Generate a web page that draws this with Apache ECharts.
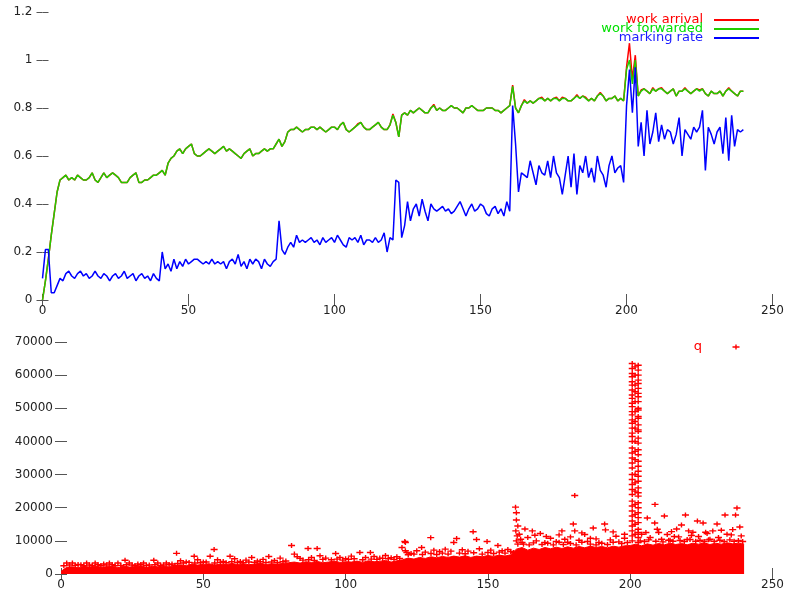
<!DOCTYPE html>
<html>
<head>
<meta charset="utf-8">
<script src="https://cdn.jsdelivr.net/npm/echarts@6/dist/echarts.min.js"></script>
<style>
html,body{margin:0;padding:0;background:#fff;}
#chart{width:787px;height:591px;}
</style>
</head>
<body>
<div id="chart"></div>
<script>
// ---- top plot: samples every 1 s from t = 0 to 240 ----
const topStart = 0, topStep = 1;
const workForwarded = [
0,0.08,0.17,0.27,0.36,0.45,0.50,0.51,0.52,0.50,
0.51,0.50,0.52,0.51,0.50,0.50,0.51,0.53,0.50,0.49,
0.51,0.53,0.51,0.52,0.53,0.52,0.51,0.49,0.49,0.49,
0.51,0.52,0.53,0.49,0.49,0.50,0.50,0.51,0.52,0.52,
0.53,0.54,0.52,0.57,0.59,0.60,0.62,0.63,0.61,0.63,
0.64,0.65,0.61,0.60,0.60,0.61,0.62,0.63,0.62,0.61,
0.62,0.63,0.64,0.62,0.63,0.62,0.61,0.60,0.59,0.61,
0.62,0.63,0.60,0.61,0.61,0.62,0.63,0.62,0.63,0.63,
0.65,0.67,0.64,0.66,0.70,0.71,0.71,0.72,0.71,0.70,
0.71,0.71,0.72,0.72,0.71,0.72,0.71,0.70,0.71,0.72,
0.72,0.71,0.73,0.74,0.71,0.70,0.71,0.72,0.73,0.74,
0.72,0.71,0.71,0.72,0.73,0.74,0.72,0.71,0.71,0.73,
0.77,0.74,0.68,0.77,0.78,0.77,0.79,0.78,0.79,0.80,
0.79,0.78,0.78,0.80,0.81,0.79,0.80,0.79,0.79,0.80,
0.81,0.80,0.80,0.79,0.78,0.80,0.80,0.81,0.80,0.79,
0.79,0.79,0.80,0.80,0.80,0.79,0.79,0.78,0.79,0.80,
0.81,0.89,0.80,0.78,0.81,0.83,0.82,0.83,0.82,0.83,
0.84,0.84,0.83,0.84,0.83,0.84,0.84,0.83,0.84,0.84,
0.83,0.83,0.84,0.85,0.84,0.85,0.84,0.83,0.84,0.83,
0.85,0.86,0.85,0.83,0.84,0.84,0.85,0.83,0.84,0.83,
0.96,1.00,0.90,1.00,0.85,0.87,0.88,0.87,0.86,0.88,
0.87,0.88,0.88,0.87,0.86,0.87,0.88,0.85,0.87,0.87,
0.88,0.87,0.86,0.87,0.88,0.87,0.88,0.86,0.85,0.87,
0.86,0.86,0.87,0.85,0.87,0.88,0.87,0.86,0.85,0.87,
0.87];
const workArrival = [
0,0.08,0.17,0.27,0.36,0.45,0.50,0.51,0.52,0.50,
0.51,0.50,0.52,0.51,0.50,0.50,0.51,0.53,0.50,0.49,
0.51,0.53,0.51,0.52,0.53,0.52,0.51,0.49,0.49,0.49,
0.51,0.52,0.53,0.49,0.49,0.50,0.50,0.51,0.52,0.52,
0.53,0.54,0.52,0.57,0.59,0.60,0.62,0.63,0.61,0.63,
0.64,0.65,0.61,0.60,0.60,0.61,0.62,0.63,0.62,0.61,
0.62,0.63,0.64,0.62,0.63,0.62,0.61,0.60,0.59,0.61,
0.62,0.63,0.60,0.61,0.61,0.62,0.63,0.62,0.63,0.63,
0.65,0.67,0.64,0.66,0.70,0.71,0.71,0.72,0.71,0.70,
0.71,0.71,0.72,0.72,0.71,0.72,0.71,0.70,0.71,0.72,
0.72,0.71,0.73,0.74,0.71,0.70,0.71,0.72,0.735,0.74,
0.72,0.71,0.71,0.72,0.73,0.74,0.72,0.71,0.71,0.73,
0.775,0.74,0.68,0.77,0.78,0.77,0.79,0.78,0.79,0.80,
0.79,0.78,0.78,0.80,0.815,0.79,0.80,0.79,0.79,0.80,
0.81,0.80,0.80,0.79,0.78,0.80,0.80,0.81,0.80,0.79,
0.79,0.79,0.80,0.80,0.80,0.79,0.79,0.78,0.79,0.80,
0.81,0.895,0.80,0.78,0.81,0.835,0.82,0.83,0.82,0.83,
0.84,0.845,0.83,0.84,0.83,0.84,0.845,0.83,0.845,0.84,
0.83,0.83,0.84,0.855,0.84,0.85,0.845,0.83,0.84,0.83,
0.85,0.865,0.85,0.83,0.84,0.84,0.85,0.83,0.84,0.83,
0.97,1.07,0.92,1.02,0.85,0.875,0.88,0.87,0.86,0.885,
0.87,0.88,0.885,0.87,0.86,0.87,0.88,0.85,0.87,0.87,
0.885,0.87,0.86,0.87,0.88,0.875,0.88,0.86,0.85,0.87,
0.86,0.86,0.87,0.85,0.87,0.885,0.87,0.86,0.85,0.87,
0.87];
const markingRate = [
0.09,0.21,0.21,0.03,0.03,0.06,0.09,0.08,0.11,0.12,
0.10,0.09,0.11,0.12,0.10,0.11,0.09,0.10,0.12,0.10,
0.09,0.11,0.10,0.08,0.10,0.11,0.09,0.10,0.12,0.09,
0.10,0.11,0.08,0.10,0.11,0.09,0.10,0.08,0.11,0.09,
0.08,0.20,0.13,0.15,0.12,0.17,0.13,0.16,0.14,0.17,
0.15,0.16,0.17,0.17,0.16,0.15,0.16,0.15,0.17,0.15,
0.16,0.15,0.16,0.13,0.16,0.17,0.15,0.19,0.14,0.16,
0.13,0.17,0.15,0.17,0.16,0.13,0.17,0.15,0.14,0.16,
0.17,0.33,0.21,0.19,0.22,0.24,0.22,0.27,0.24,0.25,
0.24,0.25,0.26,0.24,0.25,0.23,0.26,0.24,0.25,0.26,
0.24,0.27,0.25,0.23,0.22,0.26,0.25,0.26,0.24,0.27,
0.23,0.25,0.25,0.24,0.26,0.24,0.25,0.28,0.20,0.26,
0.25,0.50,0.49,0.26,0.31,0.41,0.33,0.38,0.40,0.35,
0.42,0.37,0.33,0.40,0.38,0.37,0.38,0.39,0.37,0.38,
0.36,0.37,0.39,0.41,0.38,0.35,0.38,0.40,0.37,0.38,
0.40,0.39,0.36,0.35,0.38,0.39,0.36,0.38,0.35,0.41,
0.37,0.81,0.65,0.45,0.53,0.52,0.51,0.58,0.53,0.48,
0.56,0.53,0.52,0.58,0.51,0.60,0.53,0.51,0.44,0.52,
0.60,0.47,0.61,0.44,0.56,0.53,0.60,0.51,0.55,0.49,
0.60,0.54,0.52,0.47,0.56,0.60,0.53,0.55,0.56,0.49,
0.81,0.96,0.78,0.97,0.64,0.74,0.60,0.79,0.65,0.70,
0.78,0.66,0.73,0.67,0.71,0.70,0.65,0.69,0.76,0.60,
0.71,0.69,0.67,0.72,0.70,0.72,0.79,0.54,0.72,0.69,
0.65,0.70,0.72,0.61,0.76,0.58,0.77,0.64,0.71,0.70,
0.71];

// ---- bottom plot: queue length q ----
// dense band of samples: upper edge of the solid mass, every 2 s from 0 to 240
const qBandStart = 0, qBandStep = 2;
const qBandTop = [
800,2000,2200,1900,2300,2100,2400,2000,2200,2300,1900,2400,2100,2200,2500,2000,2300,2200,2400,2100,2600,
2800,2500,3000,2700,2900,3100,2700,3000,2800,3200,2900,3100,2800,3000,3300,2900,3100,3000,3200,3400,
3600,3300,3700,3500,3800,3400,3600,3900,3500,3700,3600,3900,3500,4000,3700,3800,4100,3600,4000,4300,
4800,4500,5000,4700,5200,4900,5300,5000,5400,5100,5500,5000,5400,5200,5600,5300,5700,5400,5800,7500,
8000,7200,7800,7400,8000,7600,8100,7700,8200,7800,8300,7900,8400,8000,8300,7900,8400,8100,8500,8600,
9000,8500,9100,8700,9200,8800,9300,8900,9200,8800,9300,9000,9400,8900,9300,9000,9400,9100,9300,9000];
// individual samples above the band [time, q]
const qScatter = [
[1,2500],[3,2700],[5,2600],[7,2800],[8,2500],[10,2700],[11,2600],[13,2800],[14,2500],[16,2700],[18,2800],[19,2500],[21,2600],[23,2800],[25,2700],[26,2500],[28,2800],[30,2600],[31,2700],[33,2800],[35,2600],[36,2700],[38,2800],[40,2600],
[2,3300],[4,3300],[6,2900],[9,3300],[12,3300],[15,3000],[17,3300],[20,3300],[22.5,4150],[24,3300],[27,3000],[29,3300],[32.6,4150],[34,3300],[37,3300],[39,3000],
[41,3200],[43,3300],[45,3500],[47,3300],[49,3400],[51,3600],[54,3300],[56,3500],[58,3400],[60,3700],[62,3500],[64,3400],[66,3600],[68,3500],[70,3700],[72,3500],[74,3600],[76,3500],[78,3700],
[40.6,6230],[42,4000],[44,3600],[46.8,5340],[48,4300],[50,3600],[52.4,5340],[53.8,7400],[55,4300],[57,3800],[59.4,5340],[61,4600],[63,3800],[65,4200],[67,5000],[69,3900],[71,4400],[73,5300],[75,4100],[77,4800],[79,3900],
[85,4200],[87,4300],[89,4100],[92,4400],[95,4300],[97,4500],[99,4200],[101,4400],[103,4600],[106,4300],[109,4500],[111,4400],[113,4700],[115,4600],[117,4400],[119,4700],
[81,8600],[82,6000],[83,5200],[84,4700],[86.8,7700],[88,5000],[90,7700],[91,5500],[93,4800],[96.5,6200],[98,5000],[100,4600],[102,5400],[105,6500],[107,5000],[108.7,6500],[110,5300],[112,4800],[114,5600],[116,4900],[118,5200],[119.8,8000],[120.8,9800],[121,7000],[121.5,6500],
[122,5800],[124,6000],[127,5900],[130,6200],[132,5900],[134,6300],[136,6000],[140,6300],[142,6100],[145,6400],[148,6000],[150,6500],[152,6200],[154,6600],[156,6300],[159,6500],
[121,9500],[123,6200],[125,7000],[126.7,8000],[128,6600],[129.9,10970],[131,7200],[133,6800],[135,7500],[137,6900],[138,9500],[139,10700],[141,7300],[143,6900],[144.8,12750],[146,10400],[147,7600],[149.7,9800],[151,7200],[153.5,8600],[155,7000],[157,7400],[158,6800],
[159.7,20170],[160,16300],[160,18500],[160.5,14500],[159.8,13000],[160.3,11500],[160,10000],[161,12000],[160.5,9000],[161.5,10500],[162,9500],
[162.5,9000],[164.5,8800],[166,9400],[169,8900],[171,9300],[173,8800],[175,9600],[176.5,8900],[179,9200],[181,8800],[183,9600],[186,9000],[188,8800],[190,9300],[192,8900],[194,9600],[197,9200],[199,9500],[170.5,11300],[175,11800],[183,12400],[186,10800],[194,12700],[198,12000],[166.5,11700],[179,11200],
[163,13600],[164,11000],[165.6,13000],[167,10000],[168.4,12200],[170,9500],[172,10800],[174,9800],[176,13000],[177,10500],[178,9600],[180,15100],[180.5,13000],[180.5,23700],[182,10200],[184,11900],[185,9800],[187,13900],[188,10600],[189,9500],[191,15100],[191.3,13300],[193,10300],[195,11400],[196,9700],[198,10800],
[203.5,10000],[205,9800],[206.5,10300],[209,9900],[211.5,9700],[213.5,10200],[215,9900],[217.5,10100],[219,9800],[221,10400],[223,9900],[224.5,10200],[226,9800],[227.5,10300],[229.5,9900],[231.5,10200],[233,9800],[235,10300],[236.5,9900],[238,10100],[239.5,9800],[205.5,12500],[209.5,13500],[214.5,12800],[220.5,13000],[226.5,12600],[232,13200],[235.5,11800],[221.5,11600],[215.5,11300],
[204,12000],[206,16900],[207,11000],[208.6,15400],[208.7,21000],[210,12500],[211,10500],[212,17500],[213,11900],[214,10200],[216.3,13600],[217,11200],[218,14800],[219.4,17800],[220,10400],[222,12600],[223.6,16000],[224,11300],[225.6,15400],[227,12200],[228,10500],[229,13000],[230.5,15100],[231,11000],[233.3,17800],[234,12000],[236,13400],[237,17800],[237.5,19900],[238.5,14200],[239,11500]
];
// the burst around t = 201
const qBurstA = [[200.7,63500],[200.7,62000],[200.7,60500],[200.7,59500],[200.7,58000],[200.7,57000],[200.7,55500],[200.7,54000],[200.7,53000],[200.7,51500],[200.7,50500],[200.7,49000],[200.7,48000],[200.7,46500],[200.7,45500],[200.7,44000],[200.7,42500],[200.7,41500],[200.7,40000],[200.7,38000],[200.7,36500],[200.7,35000],[200.7,33500],[200.7,32000],[200.7,30000],[200.7,28500],[200.7,27000],[200.7,25500],[200.7,24000],[200.7,22000],[200.7,20500],[200.7,19000],[200.7,17500],[200.7,16000],[200.7,14500],[200.7,13000],[200.7,11500],[200.7,10000]];
const qBurstB = [[202.8,63000],[202.8,61500],[202.8,60000],[202.8,58500],[202.8,57500],[202.8,56000],[202.8,54500],[202.8,53500],[202.8,52000],[202.8,50000],[202.8,49500],[202.8,47500],[202.8,47000],[202.8,45000],[202.8,43500],[202.8,43000],[202.8,41000],[202.8,39500],[202.8,37500],[202.8,36000],[202.8,34000],[202.8,32500],[202.8,31000],[202.8,29500],[202.8,28000],[202.8,26000],[202.8,24500],[202.8,23500],[202.8,21500],[202.8,20000],[202.8,18500],[202.8,17000],[202.8,15500],[202.8,13500],[202.8,12500],[202.8,11000],[202.8,9500]];
const qBurstC = [[201.7,62500],[201.7,60000],[201.7,57000],[201.7,55000],[201.7,52000],[201.7,49000],[201.7,46000],[201.7,44000],[201.7,40000],[201.7,37000],[201.7,34500],[201.7,30000],[201.7,27500],[201.7,25000],[201.7,21000],[201.7,18000],[201.7,15000],[201.7,12000]];

function pairs(start, step, vals){ return vals.map((v,i)=>[start+i*step, v]); }

const FONT = 'DejaVu Sans';
const RED = '#ff0000';
const plus = 'path://M2.8,0L4.2,0L4.2,1.8L7,1.8L7,3.2L4.2,3.2L4.2,5L2.8,5L2.8,3.2L0,3.2L0,1.8L2.8,1.8Z';

function xAx(grid, pos, labels){
  return {type:'value', gridIndex:grid, position:pos, min:0, max:250, interval:50,
    axisLine:{show:false}, splitLine:{show:false},
    axisTick:{show:true, inside:true, length:6, lineStyle:{color:'#555', width:1}},
    axisLabel:{show:labels, margin:5, fontSize:12, fontFamily:FONT, color:'#222'}};
}
function yAx(grid, pos, labels, max, interval, margin){
  return {type:'value', gridIndex:grid, position:pos, min:0, max:max, interval:interval,
    axisLine:{show:false}, splitLine:{show:false},
    axisTick:{show:true, inside:true, length:6, lineStyle:{color:'#555', width:1}},
    axisLabel:{show:labels, margin:margin, fontSize:12, fontFamily:FONT, color:'#222', formatter:(v)=>String(v)}};
}

const chart = echarts.init(document.getElementById('chart'), null, {renderer:'canvas'});
chart.setOption({
  animation:false,
  backgroundColor:'#ffffff',
  grid:[
    {left:42.5, right:9, top:12, bottom:291},
    {left:61, right:9, top:342, bottom:13}
  ],
  xAxis:[xAx(0,'bottom',true), xAx(0,'top',false), xAx(1,'bottom',true), xAx(1,'top',false)],
  yAxis:[yAx(0,'left',true,1.2,0.2,10), yAx(0,'right',false,1.2,0.2,10),
         yAx(1,'left',true,70000,10000,8), yAx(1,'right',false,70000,10000,8)],
  legend:[
    {orient:'vertical', align:'right', right:28, top:13.5, padding:0, itemGap:-4,
     itemWidth:45, itemHeight:2, icon:'rect', selectedMode:false,
     textStyle:{fontSize:13, fontFamily:FONT, padding:[0,6,0,0]},
     data:[{name:'work arrival', textStyle:{color:'#ff0000'}},
           {name:'work forwarded', textStyle:{color:'#00e000'}},
           {name:'marking rate', textStyle:{color:'#1a1aff'}}]},
    {orient:'vertical', align:'right', right:47.5, top:340.5, padding:0, itemGap:0,
     itemWidth:58, itemHeight:5, icon:plus, selectedMode:false,
     textStyle:{fontSize:13, fontFamily:FONT},
     data:[{name:'q', itemStyle:{color:RED}, textStyle:{color:RED}}]}
  ],
  series:[
    {name:'work arrival', type:'line', xAxisIndex:0, yAxisIndex:0, symbol:'none',
     data:pairs(topStart, topStep, workArrival), lineStyle:{color:'#ff0000', width:1.5}, itemStyle:{color:'#ff0000'}},
    {name:'work forwarded', type:'line', xAxisIndex:0, yAxisIndex:0, symbol:'none',
     data:pairs(topStart, topStep, workForwarded), lineStyle:{color:'#22cc00', width:1.5}, itemStyle:{color:'#22cc00'}},
    {name:'marking rate', type:'line', xAxisIndex:0, yAxisIndex:0, symbol:'none',
     data:pairs(topStart, topStep, markingRate), lineStyle:{color:'#0000ff', width:1.5}, itemStyle:{color:'#0000ff'}},
    {name:'q', type:'scatter', xAxisIndex:2, yAxisIndex:2, symbol:plus, symbolSize:[7,5],
     symbolKeepAspect:false, large:false, silent:true,
     emphasis:{disabled:true}, blur:{itemStyle:{opacity:1}},
     itemStyle:{color:RED, borderColor:RED, borderWidth:0, opacity:1, shadowBlur:0},
     data:qScatter.concat(qBurstA, qBurstB, qBurstC), z:3},
    {name:'q band', type:'line', xAxisIndex:2, yAxisIndex:2, symbol:'none', silent:true,
     data:pairs(qBandStart, qBandStep, qBandTop), lineStyle:{color:RED, width:1},
     areaStyle:{color:RED, opacity:1}, itemStyle:{color:RED}, z:2}
  ]
});
</script>
</body>
</html>
